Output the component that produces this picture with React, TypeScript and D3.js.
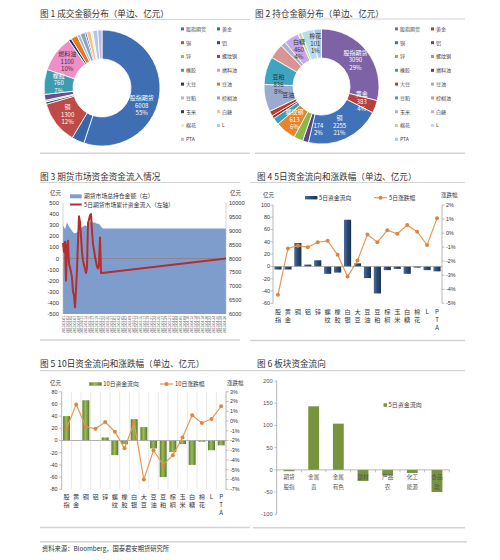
import React from 'react';
import * as d3 from 'd3';

const CN = '"Noto Sans CJK SC","Noto Sans",sans-serif';
const NUM = '"Liberation Sans","DejaVu Sans",sans-serif';

// ---------- Fig 1 & 2 : pies ----------
const pieCategories = ['股指期货','黄金','铜','铝','锌','螺纹钢','橡胶','燃料油','大豆','豆油','豆粕','棕榈油','玉米','白糖','棉花','L','PTA'];
const turnoverValues = [6008,380,1300,70,50,180,760,1100,90,200,100,150,50,130,60,150,130];
const openInterestValues = [3090,383,2255,174,280,613,210,90,150,820,836,450,150,460,101,380,230];
const turnoverColors = ['#3F6EB2','#3766A8','#BE4B48','#2C4D75','#9BBB59','#6A4F8E','#3C9DB0','#EE8FC9','#1F3C68','#E07B20','#A9BCD8','#8EA3C7','#243F73','#F9BE8C','#FDEBB5','#A7CDEB','#C5B3E3'];
const openInterestColors = ['#7E62A6','#B8403C','#3F72B8','#5B4785','#8DB84A','#E8842A','#3AA0BB','#A02B2B','#C0392B','#9AAAD0','#3DA5C0','#D99594','#A8B4CC','#C9A8E8','#C3D69B','#B7DDE8','#A9C9E8'];
// label placement / style (not data)
const turnoverLabels = [
  { name: '股指期货', ink: '#ffffff', mode: 'full', dAngle: 15, rFrac: 0.5 },
  { name: '铜', ink: '#ffffff', mode: 'full', dAngle: 0, rFrac: 0.5 },
  { name: '橡胶', ink: '#ffffff', mode: 'full', dAngle: 0, rFrac: 0.5 },
  { name: '燃料油', ink: '#333333', mode: 'full', dAngle: 0, rFrac: 0.5 },
];
const oiLabels = [
  { name: '股指期货', ink: '#ffffff', mode: 'full', dAngle: 0, rFrac: 0.5 },
  { name: '黄金', ink: '#ffffff', mode: 'full', dAngle: 0, rFrac: 0.5 },
  { name: '铜', ink: '#ffffff', mode: 'full', dAngle: 0, rFrac: 0.5 },
  { name: '铝', ink: '#ffffff', mode: 'value', dAngle: -12, rFrac: 0.5 },
  { name: '螺纹钢', ink: '#ffffff', mode: 'full', dAngle: 0, rFrac: 0.5 },
  { name: '豆粕', ink: '#333333', mode: 'full', dAngle: -14, rFrac: 0.5 },
  { name: '豆油', ink: '#333333', mode: 'name', dAngle: -2, rFrac: 0.2 },
  { name: '白糖', ink: '#333333', mode: 'full', dAngle: 0, rFrac: 0.5 },
  { name: '棉花', ink: '#333333', mode: 'full', dAngle: 14, rFrac: 0.5 },
];

// ---------- Fig 3 ----------
const inflowDays = [0,1,2,3,4,5,6,7,8,9,10,11,12,13,14,15,16,17,18,19,20,21,22,23,24,25,26,27,28,29,30,31,32,33,34,35,36,37,38,39,163];
const inflowValues = [140,60,150,-200,120,160,-50,-80,-120,-170,-300,-330,-440,-280,-100,150,380,330,200,60,-20,-60,-90,-130,-80,320,350,390,400,250,130,80,20,-30,-70,-90,-60,190,-130,-130,0];
const holdingDays = [0,2,4,6,8,10,12,14,16,18,20,22,24,26,28,30,32,34,36,38,40,163];
const holdingValues = [9200,9050,9300,9150,9050,8950,8900,8950,8950,9100,9150,9200,9150,9300,9350,9300,9300,9250,9250,9150,9080,9080];
const fig3LeftTicks = [500,400,300,200,100,0,-100,-200,-300,-400,-500];
const fig3RightTicks = [10000,9500,9000,8500,8000,7500,7000,6500,6000];
const fig3DateLabels = d3.utcDay
  .range(new Date(Date.UTC(2013, 1, 1)), new Date(Date.UTC(2013, 4, 1)))
  .filter((_, i) => i % 2 === 0)
  .map(d3.utcFormat('%Y-%m-%d'));

// ---------- Fig 4 & 5 ----------
const commodities = ['股指','黄金','铜','铝','锌','螺纹','橡胶','白银','大豆','豆油','豆粕','棕榈','玉米','白糖','棉花','L','PTA'];
const flow5 = [-5,-5,38,3,10,-12,-10,76,5,-19,-44,-6,-4,-12,-2,-6,-8];
const chg5 = [-4.4,-1.1,-0.9,-1.0,-0.65,-0.55,-1.55,-3.1,-1.95,-0.1,-0.65,0.2,-0.05,0.58,0.1,-0.85,1.05];
const flow10 = [40,0.5,66,0.5,5,-24,-6,35,22,-13,-60,-19,-6,-40,-2,-16,-8];
const chg10 = [-0.8,1.7,-0.6,-0.8,-0.1,-1.1,-2.8,-0.2,-6.0,-3.0,-4.5,-3.5,-1.7,0.58,-0.2,0.2,1.5];
const fig4LeftTicks = [100,80,60,40,20,0,-20,-40,-60];
const fig4RightTicks = [2,1,0,-1,-2,-3,-4,-5];
const fig5LeftTicks = [80,60,40,20,0,-20,-40,-60,-80];
const fig5RightTicks = [3,2,1,0,-1,-2,-3,-4,-5,-6,-7];

// ---------- Fig 6 ----------
const sectors = ['期货\n股指','金属\n贵','金属\n有色','建材','产品\n农','化工\n能源','食品\n软'];
const sectorFlow = [-3,143,104,-25,-13,-7,-50];
const fig6Ticks = [200,150,100,50,0,-50,-100];

const LINE = '#D4D4D4';

function Pie({ cx, cy, rOuter, rInner, values, colors, labels, legendX, legendY }: any) {
  const total = d3.sum(values as number[]);
  const arcs = d3.pie<number>().sort(null).value(v => v)(values);
  const arc = d3.arc<any>().innerRadius(rInner).outerRadius(rOuter);
  return (
    <g>
      <g transform={`translate(${cx},${cy})`}>
        {arcs.map((a, i) => (
          <path key={i} d={arc(a) as string} fill={colors[i]} stroke="#fff" strokeWidth={0.8} />
        ))}
        {labels.map((lb: any) => {
          const i = pieCategories.indexOf(lb.name);
          const a = arcs[i];
          const ang = (a.startAngle + a.endAngle) / 2 + (lb.dAngle * Math.PI) / 180;
          const rr = rInner + (rOuter - rInner) * lb.rFrac;
          const lx = rr * Math.sin(ang);
          const ly = -rr * Math.cos(ang);
          const pct = Math.round((values[i] / total) * 100) + '%';
          const lines = lb.mode === 'full' ? [lb.name, String(values[i]), pct]
            : lb.mode === 'value' ? [String(values[i]), pct] : [lb.name];
          const top = ly + 2 - ((lines.length - 1) * 7.5) / 2;
          return (
            <text key={lb.name} fontSize={6} fill={lb.ink} textAnchor="middle" fontFamily={CN}>
              {lines.map((t, j) => (
                <tspan key={j} x={lx} y={top + j * 7.5}>{t}</tspan>
              ))}
            </text>
          );
        })}
      </g>
      {pieCategories.map((name, i) => {
        const x = legendX + (i % 2) * 36;
        const y = legendY + Math.floor(i / 2) * 13.8;
        return (
          <g key={name}>
            <rect x={x} y={y - 1.6} width={3} height={3} fill={colors[i]} />
            <text x={x + 5} y={y + 1.8} fontSize={5} fill="#444" fontFamily={CN}>{name}</text>
          </g>
        );
      })}
    </g>
  );
}

function Fig3() {
  const x = d3.scaleLinear().domain([0, 163]).range([63, 226]);
  const yL = d3.scaleLinear().domain([-500, 500]).range([314, 203]);
  const yR = d3.scaleLinear().domain([6000, 10000]).range([314, 203]);
  const area = d3.area<number>().x((_, i) => x(holdingDays[i])).y0(yR(6000)).y1(v => yR(v));
  const line = d3.line<number>().x((_, i) => x(inflowDays[i])).y(v => yL(v));
  const xp = d3.scalePoint<string>().domain(fig3DateLabels).range([64, 225]);
  return (
    <g>
      <path d={area(holdingValues) as string} fill="#7F9DCC" />
      <line x1={x(0)} x2={x(163)} y1={yL(0)} y2={yL(0)} stroke="#8E7F7F" strokeWidth={0.8} />
      <line x1={63} x2={63} y1={203} y2={314} stroke="#BBB" strokeWidth={0.6} />
      <line x1={226} x2={226} y1={203} y2={314} stroke="#BBB" strokeWidth={0.6} />
      <path d={line(inflowValues) as string} fill="none" stroke="#B32E2E" strokeWidth={2} strokeLinejoin="round" />
      {fig3LeftTicks.map(t => (
        <text key={t} x={59} y={yL(t) + 2} fontSize={5.8} textAnchor="end" fill="#333" fontFamily={NUM}>{t}</text>
      ))}
      {fig3RightTicks.map(t => (
        <text key={t} x={229} y={yR(t) + 2} fontSize={5.6} fill="#333" fontFamily={NUM}>{t}</text>
      ))}
      <text x={50} y={195} fontSize={5.5} fill="#333">亿元</text>
      <text x={230} y={195} fontSize={5.5} fill="#333">亿元</text>
      <rect x={70} y={194.3} width={11.7} height={4} fill="#7F9DCC" />
      <text x={84} y={198.3} fontSize={5.8} fill="#333">期货市场总持仓金额（右）</text>
      <line x1={70} x2={81.7} y1={204.5} y2={204.5} stroke="#B32E2E" strokeWidth={2} />
      <text x={84} y={206.6} fontSize={5.8} fill="#333">5日期货市场累计资金流入（左轴）</text>
      {fig3DateLabels.map(d => (
        <text key={d} transform={`translate(${xp(d)! + 1},316) rotate(-90)`} fontSize={3.3} textAnchor="end" fill="#555" fontFamily={NUM}>{d}</text>
      ))}
    </g>
  );
}

function FlowChart(p: any) {
  const { x0, x1, yTop, yBot, yTicks, pTicks, bars, pct, gradId, grid, leftLabelX, rightLabelX, catBase, legend } = p;
  const y = d3.scaleLinear().domain([yTicks[yTicks.length - 1], yTicks[0]]).range([yBot, yTop]);
  const yp = d3.scaleLinear().domain([pTicks[pTicks.length - 1], pTicks[0]]).range([yBot, yTop]);
  const xb = d3.scaleBand<string>().domain(commodities).range([x0, x1]).paddingInner(0.28).paddingOuter(0.14);
  const cx = (c: string) => (xb(c) as number) + xb.bandwidth() / 2;
  const line = d3.line<number>().x((_, i) => cx(commodities[i])).y(v => yp(v));
  const step = xb.step();
  return (
    <g>
      {grid && commodities.slice(1).map((c, i) => (
        <line key={c} x1={x0 + (i + 1) * step} x2={x0 + (i + 1) * step} y1={yTop} y2={yBot} stroke="#D9D9D9" strokeWidth={0.6} />
      ))}
      {bars.map((v: number, i: number) => (
        <rect key={i} x={xb(commodities[i])} width={xb.bandwidth()} y={Math.min(y(v), y(0))} height={Math.abs(y(v) - y(0))} fill={`url(#${gradId})`} />
      ))}
      <line x1={x0} x2={x1} y1={y(0)} y2={y(0)} stroke="#999" strokeWidth={0.7} />
      <line x1={x0} x2={x0} y1={yTop} y2={yBot} stroke="#999" strokeWidth={0.7} />
      <line x1={x1} x2={x1} y1={yTop} y2={yBot} stroke="#999" strokeWidth={0.7} />
      {yTicks.map((t: number) => (
        <g key={t}>
          <line x1={x0 - 2.5} x2={x0} y1={y(t)} y2={y(t)} stroke="#999" strokeWidth={0.6} />
          <text x={leftLabelX} y={y(t) + 1.8} fontSize={5.4} textAnchor="end" fill="#333" fontFamily={NUM}>{t}</text>
        </g>
      ))}
      {pTicks.map((t: number) => (
        <g key={t}>
          <line x1={x1} x2={x1 + 2.5} y1={yp(t)} y2={yp(t)} stroke="#999" strokeWidth={0.6} />
          <text x={rightLabelX} y={yp(t) + 1.8} fontSize={5.4} fill="#333" fontFamily={NUM}>{t + '%'}</text>
        </g>
      ))}
      <path d={line(pct) as string} fill="none" stroke="#E59A55" strokeWidth={1.2} />
      {pct.map((v: number, i: number) => (
        <circle key={i} cx={cx(commodities[i])} cy={yp(v)} r={2} fill="#DC8740" />
      ))}
      {commodities.map(c => (
        <text key={c} fontSize={6.2} fill="#333" textAnchor="middle" fontFamily={CN}>
          {Array.from(c).map((ch, j) => (
            <tspan key={j} x={cx(c)} y={catBase + j * 8.4}>{ch}</tspan>
          ))}
        </text>
      ))}
      <text x={legend.unitLX} y={legend.unitY} fontSize={5.5} fill="#333">亿元</text>
      <text x={legend.unitRX} y={legend.unitY} fontSize={5.5} fill="#333">涨跌幅</text>
      <rect x={legend.barX} y={legend.y - 1.7} width={12.4} height={3.4} fill={`url(#${gradId})`} />
      <text x={legend.barX + 14} y={legend.y + 2} fontSize={5.8} fill="#333">{legend.barText}</text>
      <line x1={legend.lineX} x2={legend.lineX + 13} y1={legend.y} y2={legend.y} stroke="#E59A55" strokeWidth={1.2} />
      <circle cx={legend.lineX + 6.5} cy={legend.y} r={2} fill="#DC8740" />
      <text x={legend.lineX + 15} y={legend.y + 2} fontSize={5.8} fill="#333">{legend.lineText}</text>
    </g>
  );
}

function Fig6() {
  const x0 = 276.7, x1 = 449.3;
  const y = d3.scaleLinear().domain([-100, 200]).range([514.3, 381]);
  const xb = d3.scaleBand<string>().domain(sectors).range([x0, x1]).paddingInner(0.56).paddingOuter(0.28);
  const step = xb.step();
  return (
    <g>
      {sectorFlow.map((v, i) => (
        <rect key={i} x={xb(sectors[i])} width={xb.bandwidth()} y={Math.min(y(v), y(0))} height={Math.abs(y(v) - y(0))} fill="#77933C" />
      ))}
      <line x1={x0} x2={x0} y1={y(200)} y2={y(-100)} stroke="#999" strokeWidth={0.7} />
      <line x1={x0} x2={x1} y1={y(0)} y2={y(0)} stroke="#999" strokeWidth={0.7} />
      {sectors.map((s, i) => (
        <line key={s} x1={x0 + (i + 1) * step} x2={x0 + (i + 1) * step} y1={y(0)} y2={y(0) + 2.5} stroke="#999" strokeWidth={0.6} />
      ))}
      {fig6Ticks.map(t => (
        <g key={t}>
          <line x1={x0 - 2.5} x2={x0} y1={y(t)} y2={y(t)} stroke="#999" strokeWidth={0.6} />
          <text x={272.7} y={y(t) + 2} fontSize={5.8} textAnchor="end" fill="#555" fontFamily={NUM}>{t}</text>
        </g>
      ))}
      {sectors.map(s => (
        <text key={s} fontSize={5.6} fill="#555" textAnchor="middle" fontFamily={CN}>
          {s.split('\n').map((ln, j) => (
            <tspan key={j} x={(xb(s) as number) + xb.bandwidth() / 2} y={479 + j * 9.5}>{ln}</tspan>
          ))}
        </text>
      ))}
      <rect x={383.5} y={403.3} width={3.5} height={3.5} fill="#77933C" />
      <text x={388.5} y={407.3} fontSize={6} fill="#444">5日资金流向</text>
    </g>
  );
}

export default function App() {
  return (
    <svg width={500} height={560} viewBox="0 0 500 560" style={{ position: 'absolute', left: 0, top: 0, background: '#fff' }} fontFamily={CN}>
      <defs>
        <linearGradient id="g4" x1="0" x2="1" y1="0" y2="0">
          <stop offset="0%" stopColor="#4A6E9E" />
          <stop offset="45%" stopColor="#2E4C78" />
          <stop offset="100%" stopColor="#17324F" />
        </linearGradient>
        <linearGradient id="g5" x1="0" x2="1" y1="0" y2="0">
          <stop offset="0%" stopColor="#5E7F28" />
          <stop offset="45%" stopColor="#9DBB5C" />
          <stop offset="100%" stopColor="#58772A" />
        </linearGradient>
      </defs>
      <rect width={500} height={560} fill="#fff" />

      <text x={40} y={16.5} fontSize={8.6} fill="#333">图 1 成交金额分布（单边、亿元）</text>
      <text x={255} y={16.5} fontSize={8.6} fill="#333">图 2 持仓金额分布（单边、亿元）</text>
      <line x1={40} x2={250} y1={19.5} y2={19.5} stroke={LINE} strokeWidth={1.2} />
      <line x1={255} x2={465} y1={19} y2={19} stroke={LINE} strokeWidth={1.2} />
      <line x1={40} x2={250} y1={153.3} y2={153.3} stroke={LINE} strokeWidth={1.4} />
      <line x1={255} x2={465} y1={153.3} y2={153.3} stroke={LINE} strokeWidth={1.4} />

      <text x={40} y={180} fontSize={8.6} fill="#333">图 3  期货市场资金资金流入情况</text>
      <text x={257} y={180} fontSize={8.6} fill="#333">图 4  5日资金流向和涨跌幅（单边、亿元）</text>
      <line x1={40} x2={240} y1={182.5} y2={182.5} stroke={LINE} strokeWidth={1.2} />
      <line x1={250} x2={465} y1={182.5} y2={182.5} stroke={LINE} strokeWidth={1.2} />
      <line x1={40} x2={240} y1={340} y2={340} stroke={LINE} strokeWidth={1.4} />
      <line x1={250} x2={465} y1={340.5} y2={340.5} stroke={LINE} strokeWidth={1.4} />

      <text x={40} y={367} fontSize={8.6} fill="#333">图 5 10日资金流向和涨跌幅（单边、亿元）</text>
      <text x={257} y={366.5} fontSize={8.6} fill="#333">图 6 板块资金流向</text>
      <line x1={40} x2={250} y1={370.7} y2={370.7} stroke={LINE} strokeWidth={1.2} />
      <line x1={250} x2={465} y1={370.7} y2={370.7} stroke={LINE} strokeWidth={1.2} />
      <line x1={40} x2={250} y1={527.5} y2={527.5} stroke={LINE} strokeWidth={1.4} />
      <line x1={253} x2={465} y1={527.7} y2={527.7} stroke={LINE} strokeWidth={1.4} />
      <line x1={40} x2={467} y1={541.7} y2={541.7} stroke={LINE} strokeWidth={1.4} />
      <text x={42} y={550.5} fontSize={6.3} fill="#333">资料来源：Bloomberg，国泰君安期货研究所</text>

      <Pie cx={102} cy={88} rOuter={58} rInner={29} values={turnoverValues} colors={turnoverColors}
        labels={turnoverLabels} legendX={181} legendY={29} />
      <Pie cx={321.5} cy={86.5} rOuter={57.5} rInner={28.5} values={openInterestValues} colors={openInterestColors}
        labels={oiLabels} legendX={395} legendY={29} />

      <Fig3 />

      <FlowChart x0={273} x1={442} yTop={205} yBot={303.3} yTicks={fig4LeftTicks} pTicks={fig4RightTicks}
        bars={flow5} pct={chg5} gradId="g4" grid={false} leftLabelX={270} rightLabelX={446} catBase={313.5}
        legend={{ unitLX: 263, unitRX: 441, unitY: 197, barX: 305, lineX: 374, y: 197.7, barText: '5日资金流向', lineText: '5日涨跌幅' }} />

      <FlowChart x0={61.7} x1={226} yTop={391.7} yBot={489.3} yTicks={fig5LeftTicks} pTicks={fig5RightTicks}
        bars={flow10} pct={chg10} gradId="g5" grid={true} leftLabelX={57.5} rightLabelX={230} catBase={498.5}
        legend={{ unitLX: 50, unitRX: 227, unitY: 385, barX: 89.3, lineX: 160, y: 384, barText: '10日资金流向', lineText: '10日涨跌幅' }} />

      <Fig6 />
    </svg>
  );
}
